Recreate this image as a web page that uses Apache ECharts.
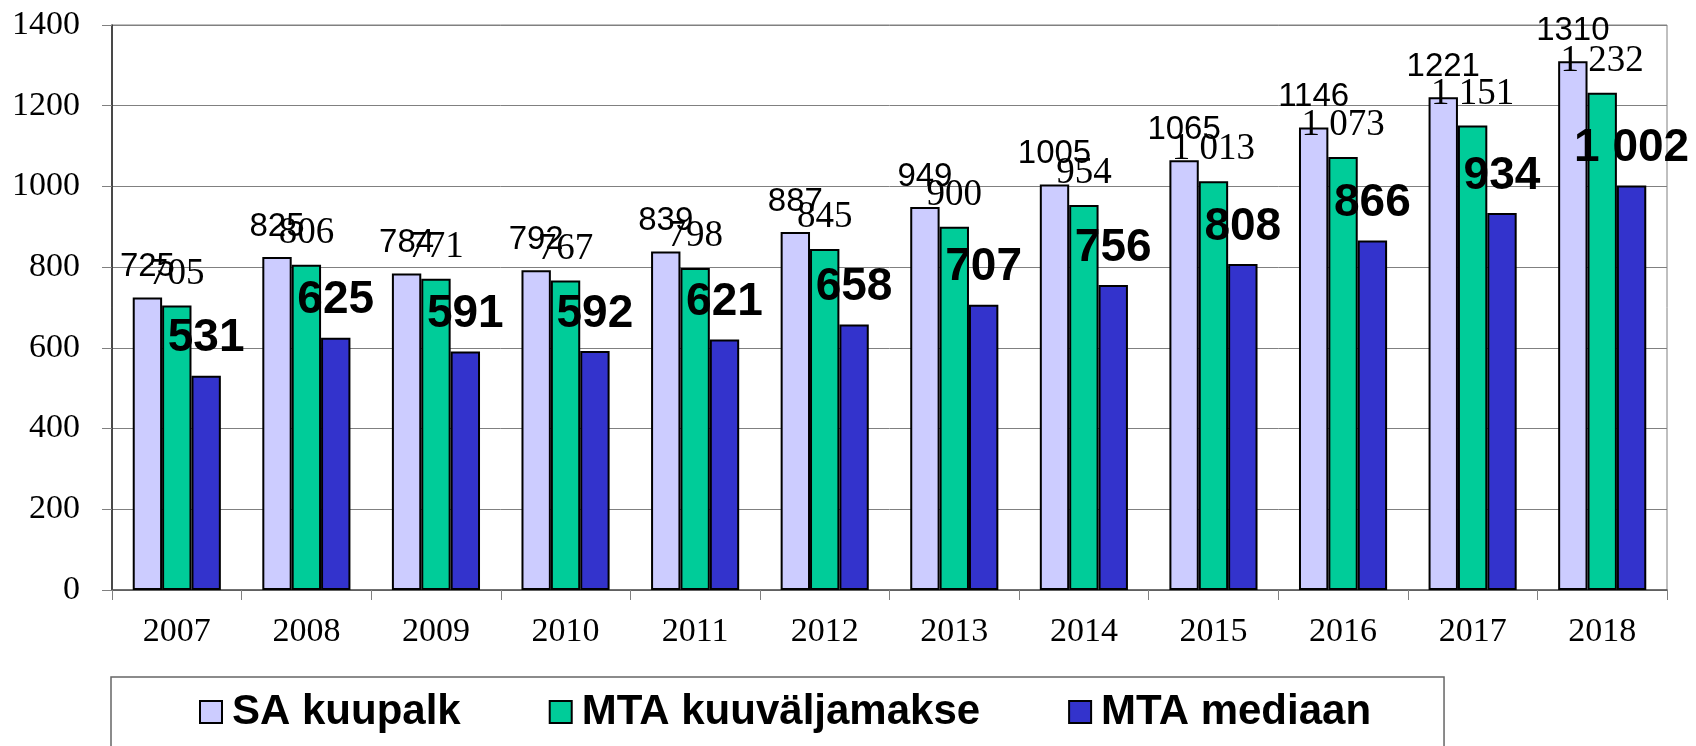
<!DOCTYPE html>
<html>
<head>
<meta charset="utf-8">
<script src="https://cdn.jsdelivr.net/npm/echarts@6/dist/echarts.min.js"></script>
<style>
  html, body { margin: 0; padding: 0; background: #fff; }
  #main { width: 1696px; height: 746px; }
</style>
</head>
<body>
<div id="main"></div>
<script>
const years = ['2007', '2008', '2009', '2010', '2011', '2012', '2013', '2014', '2015', '2016', '2017', '2018'];
const saKuupalk = [725, 825, 784, 792, 839, 887, 949, 1005, 1065, 1146, 1221, 1310];
const mtaValjamakse = [705, 806, 771, 767, 798, 845, 900, 954, 1013, 1073, 1151, 1232];
const mtaMediaan = [531, 625, 591, 592, 621, 658, 707, 756, 808, 866, 934, 1002];

// thousands with a space, like "1 073"
function spaced(p) {
  return String(p.value).replace(/\B(?=(\d{3})+(?!\d))/g, ' ');
}

var chartDom = document.getElementById('main');
var myChart = echarts.init(chartDom);
var option;

option = {
  animation: false,
  grid: {
    left: 112,
    right: 29,
    top: 25,
    bottom: 156,
    show: true,
    borderColor: '#808080',
    borderWidth: 1,
    outerBoundsMode: 'none'
  },
  legend: {
    left: 111,
    top: 677,
    orient: 'horizontal',
    padding: [14, 73, 40, 88],
    borderColor: '#666',
    borderWidth: 1.5,
    itemGap: 88,
    itemWidth: 22,
    itemHeight: 22,
    icon: 'rect',
    itemStyle: { borderColor: '#000', borderWidth: 2 },
    textStyle: {
      fontFamily: 'Liberation Sans',
      fontWeight: 'bold',
      fontSize: 42,
      color: '#000',
      padding: [0, 0, 0, 5]
    },
    data: ['SA kuupalk', 'MTA kuuväljamakse', 'MTA mediaan']
  },
  xAxis: {
    type: 'category',
    data: years,
    axisLine: { lineStyle: { color: '#555', width: 1.5 } },
    axisTick: { show: true, length: 10, lineStyle: { color: '#808080' } },
    axisLabel: {
      margin: 25,
      fontFamily: 'Liberation Serif',
      fontSize: 34,
      color: '#000'
    }
  },
  yAxis: {
    type: 'value',
    min: 0,
    max: 1400,
    interval: 200,
    axisLine: { show: true, lineStyle: { color: '#222', width: 1.5 } },
    axisTick: { show: true, length: 10, lineStyle: { color: '#808080' } },
    splitLine: { lineStyle: { color: '#808080', width: 1 } },
    axisLabel: {
      margin: 32,
      formatter: function (v) { return String(v); },
      fontFamily: 'Liberation Serif',
      fontSize: 34,
      color: '#000'
    }
  },
  series: [
    {
      name: 'SA kuupalk',
      type: 'bar',
      data: saKuupalk,
      barGap: '0%',
      barCategoryGap: '32%',
      itemStyle: { color: '#CCCCFF', borderColor: '#000', borderWidth: 2 },
      label: {
        show: true,
        position: 'top',
        distance: 14,
        fontFamily: 'Liberation Sans',
        fontSize: 33,
        color: '#000'
      }
    },
    {
      name: 'MTA kuuväljamakse',
      type: 'bar',
      data: mtaValjamakse,
      itemStyle: { color: '#00CC99', borderColor: '#000', borderWidth: 2 },
      label: {
        show: true,
        position: 'top',
        distance: 13,
        formatter: spaced,
        fontFamily: 'Liberation Serif',
        fontSize: 37,
        color: '#000'
      }
    },
    {
      name: 'MTA mediaan',
      type: 'bar',
      data: mtaMediaan,
      itemStyle: { color: '#3333CC', borderColor: '#000', borderWidth: 2 },
      label: {
        show: true,
        position: 'top',
        distance: 14,
        formatter: spaced,
        fontFamily: 'Liberation Sans',
        fontWeight: 'bold',
        fontSize: 46,
        color: '#000'
      }
    }
  ]
};

option && myChart.setOption(option);
</script>
</body>
</html>
